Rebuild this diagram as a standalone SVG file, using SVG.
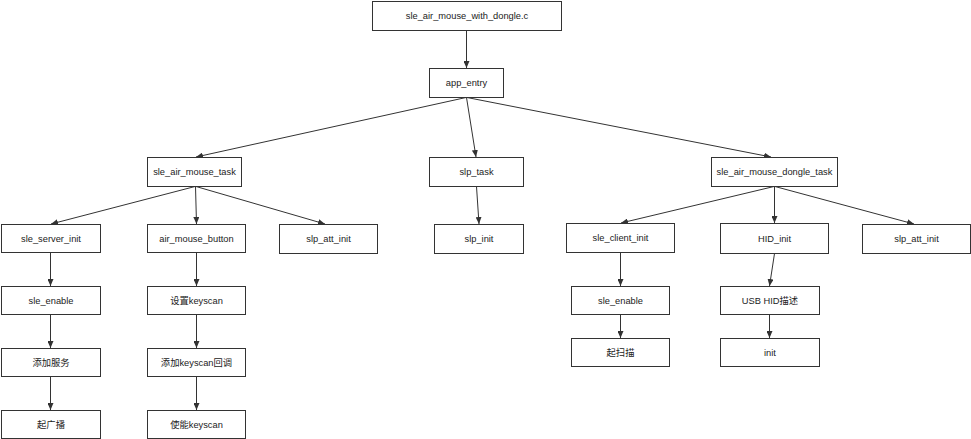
<svg xmlns="http://www.w3.org/2000/svg" width="971" height="439" viewBox="0 0 971 439">
<style>
.n rect{fill:#fff;stroke:#333;stroke-width:1}
.n text{font-family:"Liberation Sans","Noto Sans CJK SC",sans-serif;font-size:9.3px;fill:#222;text-anchor:middle}
.c line{stroke:#333;stroke-width:1;marker-end:url(#ah)}
</style>
<defs>
<marker id="ah" markerUnits="userSpaceOnUse" viewBox="0 0 7 6" refX="7" refY="3" markerWidth="7" markerHeight="6" orient="auto">
<path d="M0,0 L7,3 L0,6 z" fill="#333"/>
</marker>
</defs>
<rect width="971" height="439" fill="#fff"/>
<g class="c">
<line x1="466.5" y1="30.5" x2="466.5" y2="68"/>
<line x1="466" y1="97.5" x2="196" y2="157"/>
<line x1="466.5" y1="97.5" x2="476" y2="157"/>
<line x1="467" y1="97.5" x2="771" y2="157"/>
<line x1="195" y1="186.5" x2="51" y2="224"/>
<line x1="195.5" y1="186.5" x2="196.5" y2="224"/>
<line x1="196" y1="186.5" x2="325" y2="224"/>
<line x1="476.5" y1="186.5" x2="479" y2="224"/>
<line x1="774" y1="186.5" x2="621" y2="223"/>
<line x1="774.5" y1="186.5" x2="774.5" y2="223"/>
<line x1="775" y1="186.5" x2="914" y2="224"/>
<line x1="50.5" y1="252.5" x2="50.5" y2="286"/>
<line x1="50.5" y1="314.5" x2="50.5" y2="348"/>
<line x1="50.5" y1="376.5" x2="50.5" y2="410"/>
<line x1="196.5" y1="252.5" x2="196.5" y2="286"/>
<line x1="196.5" y1="314.5" x2="196.5" y2="348"/>
<line x1="196.5" y1="376.5" x2="196.5" y2="410"/>
<line x1="620.5" y1="252.5" x2="620.5" y2="286"/>
<line x1="620.5" y1="314.5" x2="620.5" y2="338"/>
<line x1="774.5" y1="253.5" x2="769.5" y2="286"/>
<line x1="769.5" y1="314.5" x2="769.5" y2="338"/>
</g>
<g id="main" class="n"><rect x="372.5" y="1.5" width="189" height="29"/><text x="467" y="19">sle_air_mouse_with_dongle.c</text></g>
<g id="app_entry" class="n"><rect x="429.5" y="68.5" width="74" height="29"/><text x="466.5" y="86">app_entry</text></g>
<g id="sle_air_mouse_task" class="n"><rect x="147.5" y="157.5" width="94" height="29"/><text x="194.5" y="175">sle_air_mouse_task</text></g>
<g id="slp_task" class="n"><rect x="429.5" y="157.5" width="94" height="29"/><text x="476.5" y="175">slp_task</text></g>
<g id="dongle_task" class="n"><rect x="711.5" y="157.5" width="126" height="29"/><text x="774.5" y="175">sle_air_mouse_dongle_task</text></g>
<g id="sle_server_init" class="n"><rect x="1.5" y="224.5" width="99" height="28"/><text x="51" y="241.5">sle_server_init</text></g>
<g id="air_mouse_button" class="n"><rect x="147.5" y="224.5" width="98" height="28"/><text x="196.5" y="241.5">air_mouse_button</text></g>
<g id="slp_att_init_1" class="n"><rect x="279.5" y="224.5" width="98" height="29"/><text x="328.5" y="242">slp_att_init</text></g>
<g id="slp_init" class="n"><rect x="434.5" y="224.5" width="89" height="29"/><text x="479" y="242">slp_init</text></g>
<g id="sle_client_init" class="n"><rect x="566.5" y="223.5" width="108" height="29"/><text x="620.5" y="241">sle_client_init</text></g>
<g id="HID_init" class="n"><rect x="720.5" y="223.5" width="108" height="30"/><text x="774.5" y="241.5">HID_init</text></g>
<g id="slp_att_init_2" class="n"><rect x="862.5" y="224.5" width="108" height="29"/><text x="916.5" y="242">slp_att_init</text></g>
<g id="sle_enable_1" class="n"><rect x="1.5" y="286.5" width="99" height="28"/><text x="51" y="303.5">sle_enable</text></g>
<g id="set_keyscan" class="n"><rect x="147.5" y="286.5" width="98" height="28"/><text x="196.5" y="303.5">设置keyscan</text></g>
<g id="add_service" class="n"><rect x="1.5" y="348.5" width="99" height="28"/><text x="51" y="365.5">添加服务</text></g>
<g id="add_keyscan_cb" class="n"><rect x="147.5" y="348.5" width="98" height="28"/><text x="196.5" y="365.5">添加keyscan回调</text></g>
<g id="start_adv" class="n"><rect x="1.5" y="410.5" width="99" height="28"/><text x="51" y="427.5">起广播</text></g>
<g id="enable_keyscan" class="n"><rect x="147.5" y="410.5" width="98" height="28"/><text x="196.5" y="427.5">使能keyscan</text></g>
<g id="sle_enable_2" class="n"><rect x="571.5" y="286.5" width="98" height="28"/><text x="620.5" y="303.5">sle_enable</text></g>
<g id="usb_hid_desc" class="n"><rect x="720.5" y="286.5" width="99" height="28"/><text x="770" y="303.5">USB HID描述</text></g>
<g id="start_scan" class="n"><rect x="571.5" y="338.5" width="98" height="28"/><text x="620.5" y="355.5">起扫描</text></g>
<g id="init" class="n"><rect x="720.5" y="338.5" width="99" height="28"/><text x="770" y="355.5">init</text></g>
</svg>
